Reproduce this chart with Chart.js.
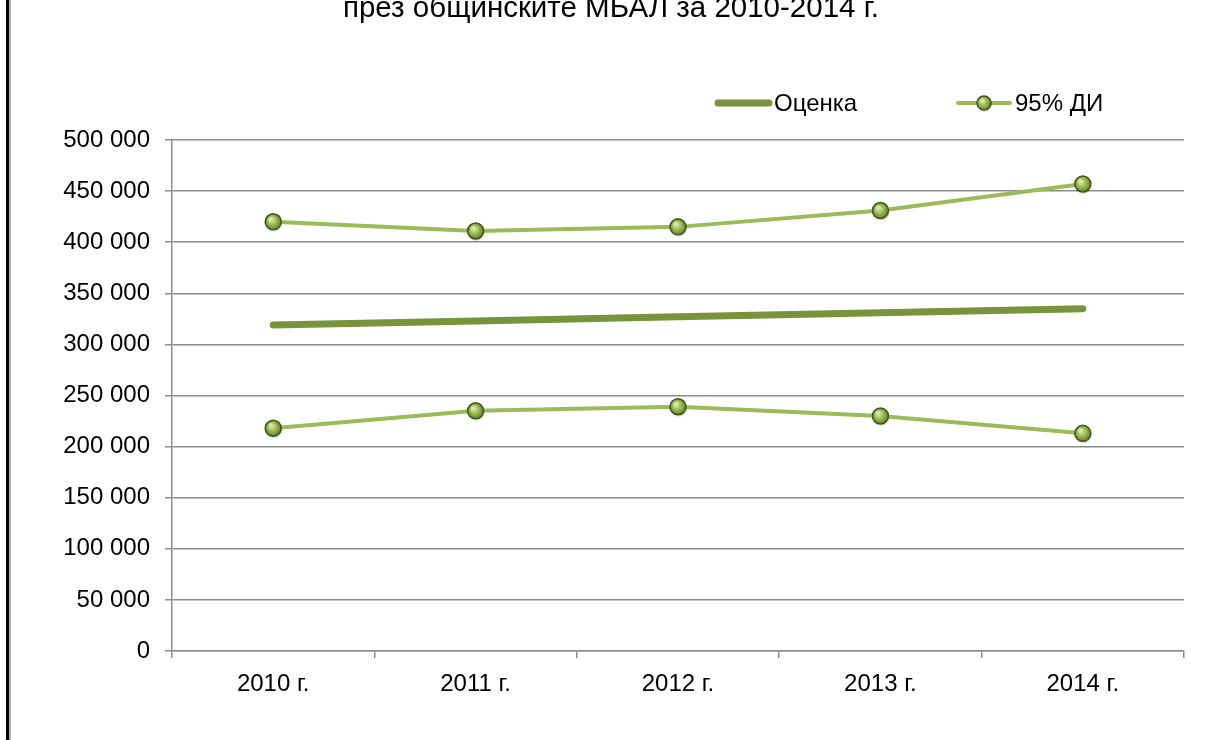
<!DOCTYPE html>
<html>
<head>
<meta charset="utf-8">
<script src="https://cdn.jsdelivr.net/npm/chart.js@4.4.1/dist/chart.umd.min.js"></script>
<style>
    html, body { margin: 0; padding: 0; background: #fff; }
    #wrap { position: relative; width: 1206px; height: 740px; }
    #frame { position: absolute; left: 6px; top: 0; width: 3px; height: 740px; background: #000; border-right: 2px solid #b0b0b0; }
</style>
</head>
<body>
<div id="wrap">
    <canvas id="chart" width="1206" height="740"></canvas>
    <div id="frame"></div>
</div>
<script>
// Chart data
const years = ['2010 г.', '2011 г.', '2012 г.', '2013 г.', '2014 г.'];
const estimate = [319000, 323000, 327000, 331000, 335000];
const ciUpper = [420000, 411000, 415000, 431000, 457000];
const ciLower = [218000, 235000, 239000, 230000, 213000];
const titleText = 'през общинските МБАЛ за 2010-2014 г.';
const legendLabels = ['Оценка', '95% ДИ'];

const FONT = '"Liberation Sans", Arial, sans-serif';
const darkGreen = '#77933C';
const lightGreen = '#9BBB59';
const gridGray = '#8c8c8c';

function fmt(v) {
    return String(v).replace(/\B(?=(\d{3})+(?!\d))/g, ' ');
}

// draws a shaded sphere like the Excel marker
function sphere(ctx, x, y, r) {
    ctx.save();
    ctx.beginPath();
    ctx.arc(x + 1, y + 2, r, 0, Math.PI * 2);
    ctx.fillStyle = 'rgba(0,0,0,0.12)';
    ctx.fill();
    const g = ctx.createRadialGradient(x - r * 0.3, y - r * 0.35, 1, x, y, r);
    g.addColorStop(0, '#dbe9b8');
    g.addColorStop(0.45, '#a2c15a');
    g.addColorStop(1, '#62802a');
    ctx.beginPath();
    ctx.arc(x, y, r, 0, Math.PI * 2);
    ctx.fillStyle = g;
    ctx.fill();
    ctx.lineWidth = 1.5;
    ctx.strokeStyle = '#435619';
    ctx.stroke();
    ctx.restore();
}

const extras = {
    id: 'extras',
    afterDatasetsDraw(chart) {
        const ctx = chart.ctx;
        [1, 2].forEach(i => {
            chart.getDatasetMeta(i).data.forEach(p => sphere(ctx, p.x, p.y, 8));
        });
    },
    afterDraw(chart) {
        const ctx = chart.ctx;
        ctx.save();
        // title (cut at top like the source image)
        ctx.fillStyle = '#000';
        ctx.font = '29.5px ' + FONT;
        ctx.textAlign = 'center';
        ctx.textBaseline = 'alphabetic';
        ctx.fillText(titleText, 611, 17);

        // legend
        ctx.font = '24px ' + FONT;
        ctx.textAlign = 'left';
        ctx.textBaseline = 'middle';
        const ly = 103;
        ctx.lineCap = 'round';
        ctx.strokeStyle = darkGreen;
        ctx.lineWidth = 7;
        ctx.beginPath();
        ctx.moveTo(718, ly);
        ctx.lineTo(769, ly);
        ctx.stroke();
        ctx.fillText(legendLabels[0], 774, ly + 1);

        ctx.strokeStyle = lightGreen;
        ctx.lineWidth = 4;
        ctx.beginPath();
        ctx.moveTo(958, ly);
        ctx.lineTo(1010, ly);
        ctx.stroke();
        sphere(ctx, 984, ly, 7);
        ctx.fillText(legendLabels[1], 1015, ly + 1);
        ctx.restore();
    }
};

new Chart('chart', {
    type: 'line',
    data: {
        labels: years,
        datasets: [
            {
                label: legendLabels[0],
                data: estimate,
                borderColor: darkGreen,
                borderWidth: 7,
                borderCapStyle: 'round',
                pointRadius: 0,
                tension: 0
            },
            {
                label: legendLabels[1],
                data: ciUpper,
                borderColor: lightGreen,
                borderWidth: 4,
                pointRadius: 0,
                tension: 0
            },
            {
                label: legendLabels[1],
                data: ciLower,
                borderColor: lightGreen,
                borderWidth: 4,
                pointRadius: 0,
                tension: 0
            }
        ]
    },
    options: {
        responsive: false,
        animation: false,
        layout: { padding: { top: 140, right: 22, left: 0, bottom: 0 } },
        plugins: {
            legend: { display: false },
            tooltip: { enabled: false },
            title: { display: false }
        },
        scales: {
            x: {
                offset: true,
                grid: {
                    offset: true,
                    drawOnChartArea: false,
                    tickLength: 7,
                    color: gridGray,
                    lineWidth: 1.5
                },
                border: { color: gridGray, width: 1.5 },
                ticks: {
                    color: '#000',
                    font: { family: FONT, size: 24 },
                    padding: 12,
                    maxRotation: 0
                },
                afterFit(scale) { scale.height = 89; }
            },
            y: {
                min: 0,
                max: 500000,
                grid: {
                    tickLength: 7,
                    color: gridGray,
                    lineWidth: 1.5
                },
                border: { color: gridGray, width: 1.5 },
                ticks: {
                    stepSize: 50000,
                    color: '#000',
                    font: { family: FONT, size: 24 },
                    padding: 15,
                    callback: v => fmt(v)
                },
                afterFit(scale) { scale.width = 172; }
            }
        }
    },
    plugins: [extras]
});
</script>
</body>
</html>
